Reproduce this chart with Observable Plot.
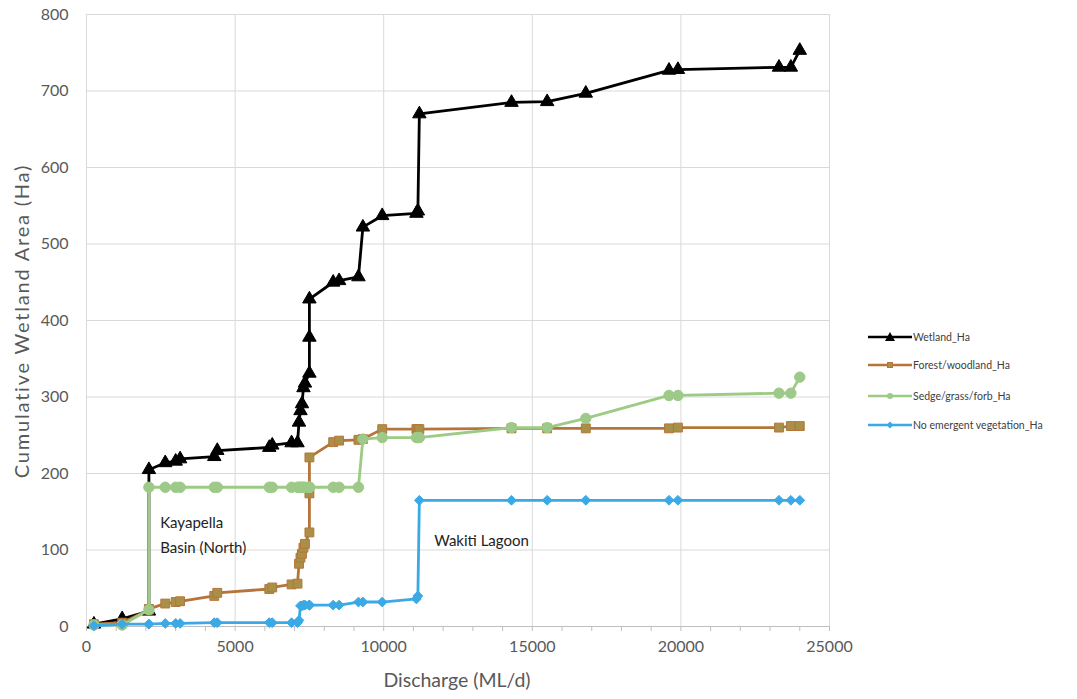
<!DOCTYPE html>
<html><head><meta charset="utf-8">
<script src="https://cdn.jsdelivr.net/npm/d3@7"></script>
<script src="https://cdn.jsdelivr.net/npm/@observablehq/plot@0.6"></script>
<style>
body{margin:0;background:#fff;}
#wrap{position:relative;width:1077px;height:699px;font-family:Lato,sans-serif;}
.leg{position:absolute;left:868px;height:20px;display:flex;align-items:center;font-size:10.5px;color:#404040;white-space:nowrap;}
.leg svg{margin-right:1px;}
.ttl{position:absolute;color:#595959;white-space:nowrap;}
</style></head><body><div id="wrap"></div>
<script>
// Shared discharge values (ML/d)
const discharge = [250, 1200, 2100, 2100, 2650, 3000, 3150, 4300, 4400, 6150, 6250, 6900, 7100, 7150, 7200, 7250, 7300, 7350, 7500, 7500, 7500, 8300, 8500, 9150, 9300, 9950, 11100, 11150, 11200, 14300, 15500, 16800, 19600, 19900, 23300, 23700, 24000];
// Series values (Ha)
const wetland = [3, 10, 20, 205, 214, 216, 219, 222, 230, 234, 237, 240, 240, 267, 282, 291, 312, 318, 331, 378, 428, 450, 452, 457, 522, 537, 540, 543, 670, 685, 686, 697, 727, 728, 731, 731, 753];
const forest = [3, 5, 22, 23, 30, 32, 33, 40, 44, 49, 51, 55, 56, 82, 90, 95, 103, 108, 123, 174, 221, 241, 243, 244, 245, 258, 258, 258, 258, 259, 259, 259, 259, 260, 260, 262, 262];
const sedge = [2, 2, 22, 182, 182, 182, 182, 182, 182, 182, 182, 182, 182, 182, 182, 182, 182, 182, 182, 182, 182, 182, 182, 182, 245, 247, 247, 247, 247, 260, 260, 272, 302, 302, 305, 305, 326];
const noveg = [1, 3, 3, 3, 4, 4, 4, 5, 5, 5, 5, 5, 5, 8, 27, 27, 28, 28, 28, 28, 28, 28, 28, 32, 32, 32, 36, 40, 165, 165, 165, 165, 165, 165, 165, 165, 165];
const seriesNames = ["Wetland_Ha", "Forest/woodland_Ha", "Sedge/grass/forb_Ha", "No emergent vegetation_Ha"];
const xTicks = [0, 5000, 10000, 15000, 20000, 25000];
const yTicks = [0, 100, 200, 300, 400, 500, 600, 700, 800];
const annotLabels = ["Kayapella", "Basin (North)", "Wakiti Lagoon"];
const annotX = [2480, 2480, 11700];
const annotY = [135, 102, 111];

const seriesValues = [wetland, forest, sedge, noveg];
const styleOf = {
  "Wetland_Ha": {stroke: "#000000", fill: "#000000", mstroke: "#000000", symbol: "triangle", r: 5},
  "Forest/woodland_Ha": {stroke: "#b5753a", fill: "#a99048", mstroke: "#b5753a", symbol: "square", r: 5},
  "Sedge/grass/forb_Ha": {stroke: "#9dcb85", fill: "#9dc98a", mstroke: "#9dcb85", symbol: "circle", r: 5.2},
  "No emergent vegetation_Ha": {stroke: "#3aa9e6", fill: "#3aa9e6", mstroke: "#3aa9e6", symbol: "diamond2", r: 4.4}
};
const series = seriesNames.map((name, i) => ({name, rows: discharge.map((d, j) => ({discharge: d, area: seriesValues[i][j]}))}));
const annotations = annotLabels.map((t, i) => ({text: t, x: annotX[i], y: annotY[i]}));

const marks = [
  Plot.gridX(xTicks, {stroke: "#d9d9d9", strokeOpacity: 1, strokeWidth: 1}),
  Plot.gridY(yTicks, {stroke: "#d9d9d9", strokeOpacity: 1, strokeWidth: 1}),
  Plot.ruleY([0], {stroke: "#bfbfbf", strokeWidth: 1}),
  Plot.axisX(d3.range(0, 25001, 1000), {tickSize: 5, text: null, stroke: "#bfbfbf", label: null}),
  Plot.axisX(xTicks, {tickSize: 0, tickPadding: 14, tickFormat: d => String(d), label: null, fill: "#595959"}),
  Plot.axisY(yTicks, {tickSize: 0, tickPadding: 18, tickFormat: d => String(d), label: null, fill: "#595959"})
];
for (const s of series) {
  const st = styleOf[s.name];
  marks.push(Plot.line(s.rows, {x: "discharge", y: "area", stroke: st.stroke, strokeWidth: 2.8, curve: "linear"}));
  marks.push(Plot.dot(s.rows, {x: "discharge", y: "area", symbol: st.symbol, r: st.r, fill: st.fill, stroke: st.mstroke, strokeWidth: 1}));
}
marks.push(Plot.text(annotations, {x: "x", y: "y", text: "text", textAnchor: "start", fontSize: 15, fill: "#222222"}));

const chart = Plot.plot({
  width: 1077, height: 699,
  marginLeft: 86, marginRight: 248, marginTop: 14, marginBottom: 73,
  x: {domain: [0, 25000]},
  y: {domain: [0, 800]},
  style: {fontFamily: "Lato, sans-serif", fontSize: "16px", background: "white", color: "#595959"},
  marks
});
const wrap = document.getElementById("wrap");
wrap.appendChild(chart);

// axis titles
const xt = document.createElement("div");
xt.className = "ttl"; xt.textContent = "Discharge (ML/d)";
xt.style.fontSize = "19.5px";
xt.style.left = "457px"; xt.style.top = "668px"; xt.style.transform = "translateX(-50%)";
wrap.appendChild(xt);
const yt = document.createElement("div");
yt.className = "ttl"; yt.textContent = "Cumulative Wetland Area (Ha)";
yt.style.fontSize = "20px"; yt.style.letterSpacing = "1.8px";
yt.style.left = "21px"; yt.style.top = "321px"; yt.style.transform = "translate(-50%,-50%) rotate(-90deg)";
wrap.appendChild(yt);

// legend
const legY = [327, 355, 386, 415];
seriesNames.forEach((name, i) => {
  const st = styleOf[name];
  const d = document.createElement("div");
  d.className = "leg"; d.style.top = legY[i] + "px";
  let mk = "";
  if (st.symbol === "triangle") mk = `<path d="M22,5 L27,14 L17,14 Z" fill="${st.fill}"/>`;
  else if (st.symbol === "square") mk = `<rect x="19.5" y="7.5" width="5" height="5" fill="${st.fill}" stroke="${st.mstroke}"/>`;
  else if (st.symbol === "circle") mk = `<circle cx="22" cy="10" r="3" fill="${st.fill}"/>`;
  else mk = `<path d="M22,6.5 L25.5,10 L22,13.5 L18.5,10 Z" fill="${st.fill}"/>`;
  d.innerHTML = `<svg width="44" height="20"><line x1="0" x2="44" y1="10" y2="10" stroke="${st.stroke}" stroke-width="2.6"/>${mk}</svg><span>${name}</span>`;
  wrap.appendChild(d);
});
</script>
</body></html>
